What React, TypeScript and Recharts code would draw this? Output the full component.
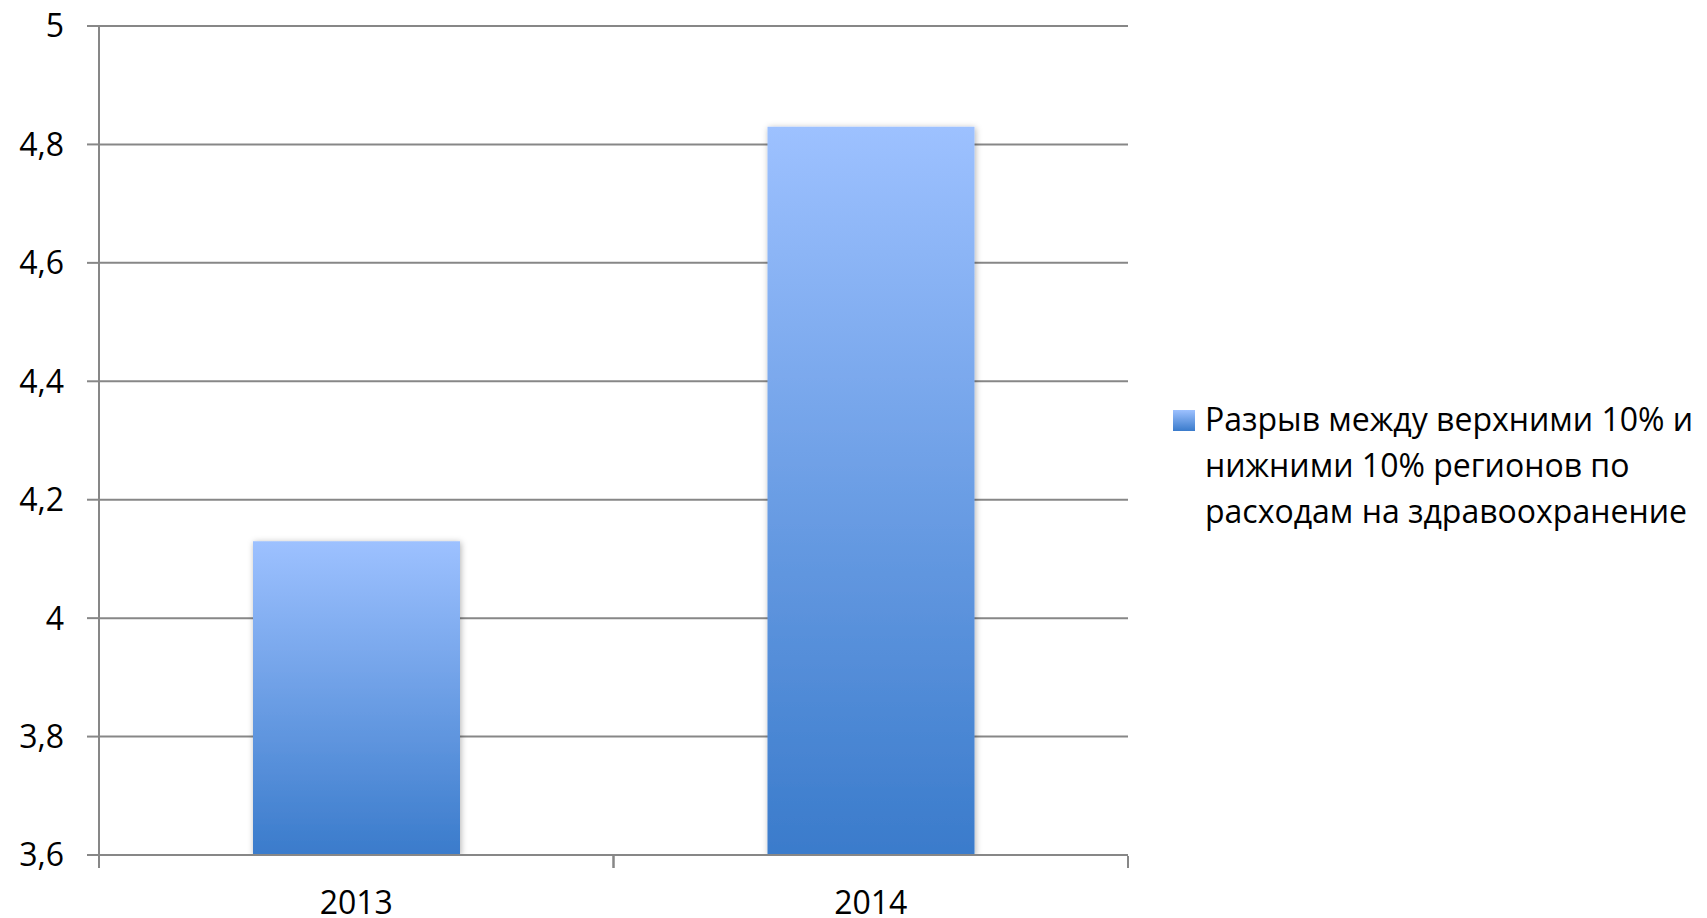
import React from 'react';
import { BarChart, Bar, XAxis, YAxis, CartesianGrid, Legend } from 'recharts';

const years = ['2013', '2014'];
const gapValues = [4.13, 4.83];
const yTicks = [3.6, 3.8, 4, 4.2, 4.4, 4.6, 4.8, 5];
const legendLines = ['Разрыв между верхними 10% и', 'нижними 10% регионов по', 'расходам на здравоохранение'];
const seriesName = legendLines.join(' ');

const data = years.map((y, i) => ({ year: y, gap: gapValues[i] }));

const AXIS_COLOR = '#878787';
const FONT = '"Open Sans", sans-serif';
const FONT_SIZE = 32;

const XTick = (props: any) => {
  const { x, y, payload } = props;
  const off = payload && typeof payload.offset === 'number' && payload.offset > 0 ? payload.offset : 257;
  return (
    <g>
      <line x1={x - off} x2={x - off} y1={y - 35} y2={y - 23} stroke={AXIS_COLOR} strokeWidth={2} />
      <line x1={x + off} x2={x + off} y1={y - 35} y2={y - 23} stroke={AXIS_COLOR} strokeWidth={2} />
      <text x={x} y={y} dy="0.71em" textAnchor="middle" fontSize={FONT_SIZE} fill="#000" fontFamily={FONT}>
        {payload.value}
      </text>
    </g>
  );
};

const LegendContent = () => (
  <div style={{ position: 'relative', fontFamily: FONT, fontSize: FONT_SIZE, lineHeight: '46px', color: '#000' }}>
    <div
      style={{
        position: 'absolute',
        left: 0,
        top: 14,
        width: 22,
        height: 21,
        background: 'linear-gradient(to bottom, #9DC1FF, #3A7BCB)',
      }}
    />
    <div style={{ marginLeft: 32, whiteSpace: 'nowrap' }}>
      {legendLines.map((l, i) => (
        <div key={i}>{l}</div>
      ))}
    </div>
  </div>
);

export default function App() {
  return (
    <div style={{ width: 1699, height: 910, fontFamily: FONT }}>
      <BarChart
        width={1699}
        height={910}
        data={data}
        margin={{ top: 18, right: 579, bottom: 0, left: 0 }}
        barCategoryGap={0}
      >
        <defs>
          <linearGradient id="barGrad" x1="0" y1="0" x2="0" y2="1">
            <stop offset="0%" stopColor="#9DC1FF" />
            <stop offset="100%" stopColor="#3A7BCB" />
          </linearGradient>
          <filter id="barShadow" x="-10%" y="-10%" width="120%" height="120%">
            <feDropShadow dx="1" dy="1" stdDeviation="3" floodColor="#000" floodOpacity="0.3" />
          </filter>
        </defs>
        <CartesianGrid vertical={false} stroke={AXIS_COLOR} strokeWidth={2} />
        <XAxis
          dataKey="year"
          height={63}
          tickLine={false}
          tickSize={0}
          tickMargin={36}
          axisLine={{ stroke: AXIS_COLOR, strokeWidth: 2 }}
          tick={<XTick />}
          interval={0}
        />
        <YAxis
          width={91}
          domain={[3.6, 5]}
          ticks={yTicks}
          interval={0}
          allowDataOverflow
          tickSize={12}
          tickMargin={23}
          tickLine={{ stroke: AXIS_COLOR, strokeWidth: 2 }}
          axisLine={{ stroke: AXIS_COLOR, strokeWidth: 2 }}
          tick={{ fontSize: FONT_SIZE, fill: '#000', fontFamily: FONT }}
          tickFormatter={(v: number) => String(v).replace('.', ',')}
        />
        <Legend
          layout="vertical"
          align="center"
          verticalAlign="middle"
          wrapperStyle={{ left: 1165, top: 388, width: 534 }}
          content={<LegendContent />}
        />
        <Bar
          dataKey="gap"
          name={seriesName}
          fill="url(#barGrad)"
          barSize={207}
          filter="url(#barShadow)"
          isAnimationActive={false}
        />
      </BarChart>
    </div>
  );
}
